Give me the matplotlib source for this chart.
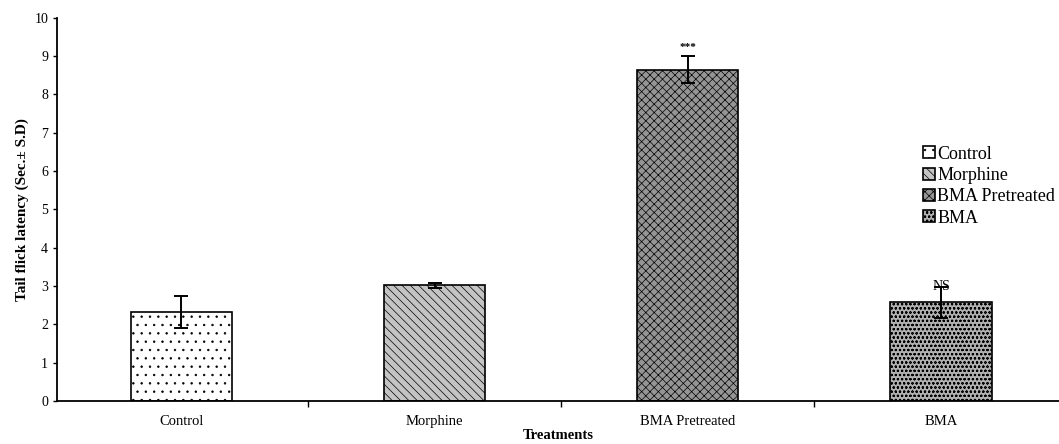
import matplotlib
matplotlib.use("Agg")
import matplotlib.pyplot as plt
import numpy as np

plt.rcParams["font.family"] = ["Liberation Serif", "DejaVu Serif"]
plt.rcParams["hatch.linewidth"] = 0.5

treatments = ["Control", "Morphine", "BMA Pretreated", "BMA"]
latency = [2.32, 3.02, 8.64, 2.57]
sd = [0.42, 0.07, 0.35, 0.40]
marks = ["", "", "***", "NS"]

faces = ["#ffffff", "#c4c4c4", "#959595", "#b0b0b0"]
hatches = ["..", "\\\\\\\\", "xxxx", "oooo"]

fig = plt.figure(figsize=(10.59, 4.44), dpi=100)
ax = fig.add_axes([0.054, 0.097, 0.946, 0.863])

x = np.arange(len(treatments))
bars = ax.bar(x, latency, width=0.4, color=faces, edgecolor="black",
              linewidth=1.2, zorder=2)
for b, h, t in zip(bars, hatches, treatments):
    b.set_hatch(h)
    b.set_label(t)
ax.errorbar(x, latency, yerr=sd, fmt="none", ecolor="black",
            elinewidth=1.4, capsize=5, capthick=1.4, zorder=3)

for xi, v, e, m in zip(x, latency, sd, marks):
    if m == "***":
        ax.text(xi, v + e + 0.12, m, ha="center", va="bottom", fontsize=8,
                fontweight="bold")
    elif m:
        ax.text(xi, v + e - 0.15, m, ha="center", va="bottom", fontsize=10)

ax.set_ylim(0, 10)
ax.set_yticks(range(0, 11))
ax.set_xlim(-0.49, 3.466)
ax.set_xticks([0.5, 1.5, 2.5])
ax.set_xticklabels([])
ax.set_xticks(x, minor=True)
ax.set_xticklabels(treatments, minor=True, fontsize=10.5)
ax.tick_params(axis="x", which="major", direction="out", length=4, width=1)
ax.tick_params(axis="x", which="minor", length=0, pad=10)
ax.tick_params(axis="y", direction="out", length=3, width=1, labelsize=10)

for s in ["top", "right"]:
    ax.spines[s].set_visible(False)
ax.spines["left"].set_linewidth(1.3)
ax.spines["bottom"].set_linewidth(1.3)

ax.set_ylabel("Tail flick latency (Sec.\u00b1 S.D)", fontsize=11,
              fontweight="bold", labelpad=4)
ax.set_xlabel("Treatments", fontsize=10.5, fontweight="bold", labelpad=1)

ax.legend(loc="upper left", bbox_to_anchor=(0.857, 0.685), frameon=False,
          fontsize=13, handlelength=0.65, handleheight=0.65,
          handletextpad=0.15, labelspacing=0.24, borderaxespad=0)

fig.savefig("out.png", dpi=100)
